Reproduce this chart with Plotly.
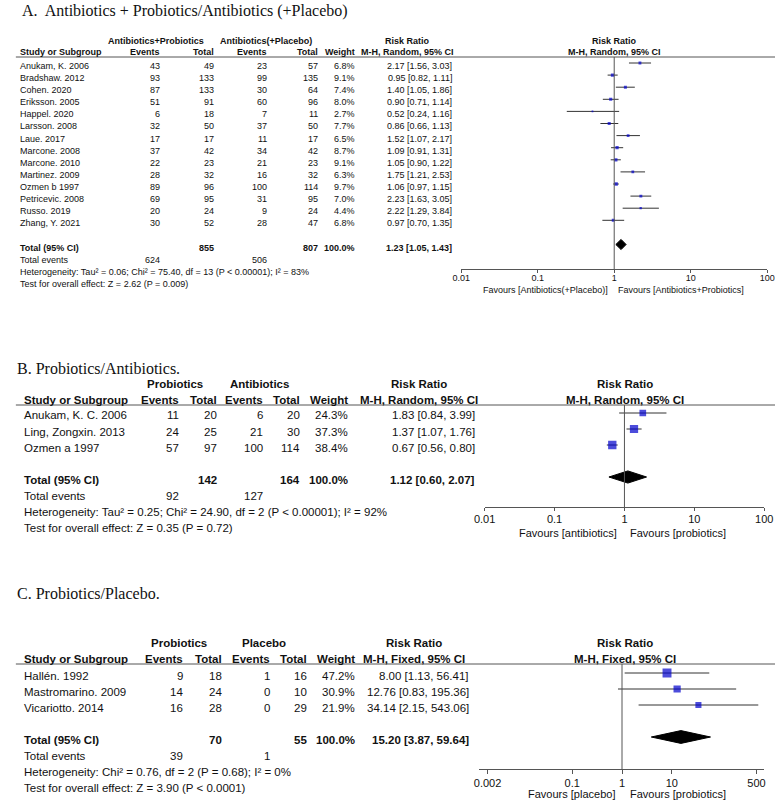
import plotly.graph_objects as go

W, H = 784, 803
SANS = "Liberation Sans, Arial, sans-serif"
SERIF = "Liberation Serif, Times New Roman, serif"
INK = "#111111"
LINE = "#555555"
CI_COL = "#333333"
BOX = "#0000CC"

# ---------------- Panel A data ----------------
studies_a = ["Anukam, K. 2006", "Bradshaw. 2012", "Cohen. 2020", "Eriksson. 2005",
             "Happel. 2020", "Larsson. 2008", "Laue. 2017", "Marcone. 2008",
             "Marcone. 2010", "Martinez. 2009", "Ozmen b 1997", "Petricevic. 2008",
             "Russo. 2019", "Zhang, Y. 2021"]
ev_trt_a = [43, 93, 87, 51, 6, 32, 17, 37, 22, 28, 89, 69, 20, 30]
tot_trt_a = [49, 133, 133, 91, 18, 50, 17, 42, 23, 32, 96, 95, 24, 52]
ev_ctl_a = [23, 99, 30, 60, 7, 37, 11, 34, 21, 16, 100, 31, 9, 28]
tot_ctl_a = [57, 135, 64, 96, 11, 50, 17, 42, 23, 32, 114, 95, 24, 47]
weight_a = [6.8, 9.1, 7.4, 8.0, 2.7, 7.7, 6.5, 8.7, 9.1, 6.3, 9.7, 7.0, 4.4, 6.8]
rr_a = [2.17, 0.95, 1.40, 0.90, 0.52, 0.86, 1.52, 1.09, 1.05, 1.75, 1.06, 2.23, 2.22, 0.97]
lo_a = [1.56, 0.82, 1.05, 0.71, 0.24, 0.66, 1.07, 0.91, 0.90, 1.21, 0.97, 1.63, 1.29, 0.70]
hi_a = [3.03, 1.11, 1.86, 1.14, 1.16, 1.13, 2.17, 1.31, 1.22, 2.53, 1.15, 3.05, 3.84, 1.35]
total_a = {"n_trt": 855, "n_ctl": 807, "ev_trt": 624, "ev_ctl": 506, "weight": 100.0,
           "rr": 1.23, "lo": 1.05, "hi": 1.43}
ticks_a = [0.01, 0.1, 1, 10, 100]
tick_labels_a = ["0.01", "0.1", "1", "10", "100"]

# ---------------- Panel B data ----------------
studies_b = ["Anukam, K. C. 2006", "Ling, Zongxin. 2013", "Ozmen a 1997"]
ev_trt_b = [11, 24, 57]
tot_trt_b = [20, 25, 97]
ev_ctl_b = [6, 21, 100]
tot_ctl_b = [20, 30, 114]
weight_b = [24.3, 37.3, 38.4]
rr_b = [1.83, 1.37, 0.67]
lo_b = [0.84, 1.07, 0.56]
hi_b = [3.99, 1.76, 0.80]
total_b = {"n_trt": 142, "n_ctl": 164, "ev_trt": 92, "ev_ctl": 127, "weight": 100.0,
           "rr": 1.12, "lo": 0.60, "hi": 2.07}
ticks_b = [0.01, 0.1, 1, 10, 100]
tick_labels_b = ["0.01", "0.1", "1", "10", "100"]

# ---------------- Panel C data ----------------
studies_c = ["Hallén. 1992", "Mastromarino. 2009", "Vicariotto. 2014"]
ev_trt_c = [9, 14, 16]
tot_trt_c = [18, 24, 28]
ev_ctl_c = [1, 0, 0]
tot_ctl_c = [16, 10, 29]
weight_c = [47.2, 30.9, 21.9]
rr_c = [8.00, 12.76, 34.14]
lo_c = [1.13, 0.83, 2.15]
hi_c = [56.41, 195.36, 543.06]
total_c = {"n_trt": 70, "n_ctl": 55, "ev_trt": 39, "ev_ctl": 1, "weight": 100.0,
           "rr": 15.20, "lo": 3.87, "hi": 59.64}
ticks_c = [0.002, 0.1, 1, 10, 500]
tick_labels_c = ["0.002", "0.1", "1", "10", "500"]

fig = go.Figure()
annotations = []
shapes = []
layout_axes = {}


def px(x):
    return x / W


def py(y):
    return 1 - y / H


def txt(x, y, s, size, anchor="left", bold=False, family=SANS):
    annotations.append(dict(
        x=px(x), y=py(y), xref="paper", yref="paper",
        text=f"<b>{s}</b>" if bold else s, showarrow=False,
        xanchor=anchor, yanchor="middle", borderpad=0,
        font=dict(size=size, family=family, color=INK)))


def panel(ax, cfg, studies, ev_t, tot_t, ev_c, tot_c, wts, rr, lo, hi, tot,
          tickvals, ticktext):
    fs = cfg["fs"]
    c = cfg["cols"]
    # title
    txt(cfg["title_x"], cfg["title_y"], cfg["title"], 16, family=SERIF)
    # group headers
    txt(c["g1"], cfg["group_y"], cfg["grp1"], fs, "center", True)
    txt(c["g2"], cfg["group_y"], cfg["grp2"], fs, "center", True)
    txt(c["rrh"], cfg["group_y"], "Risk Ratio", fs, "center", True)
    txt(cfg["plot_hdr"], cfg["group_y"], "Risk Ratio", fs, "center", True)
    # column headers
    hy = cfg["head_y"]
    txt(c["study"], hy, "Study or Subgroup", fs, "left", True)
    txt(c["e1"], hy, "Events", fs, "right", True)
    txt(c["t1"], hy, "Total", fs, "right", True)
    txt(c["e2"], hy, "Events", fs, "right", True)
    txt(c["t2"], hy, "Total", fs, "right", True)
    txt(c["w"], hy, "Weight", fs, "right", True)
    txt(c["rrh"], hy, cfg["method"], fs, "center", True)
    txt(cfg["plot_hdr"], hy, cfg["method"], fs, "center", True)
    shapes.append(dict(type="line", xref="paper", yref="paper",
                       x0=px(5), x1=px(784), y0=py(cfg["line_y"]), y1=py(cfg["line_y"]),
                       line=dict(color=LINE, width=1)))

    r0, st, off = cfg["row0"], cfg["step"], cfg["toff"]

    def ry(i):
        return r0 + st * i + off

    n = len(studies)
    for i in range(n):
        y = ry(i)
        txt(c["study"], y, studies[i], fs)
        txt(c["e1"], y, str(ev_t[i]), fs, "right")
        txt(c["t1"], y, str(tot_t[i]), fs, "right")
        txt(c["e2"], y, str(ev_c[i]), fs, "right")
        txt(c["t2"], y, str(tot_c[i]), fs, "right")
        txt(c["w"], y, f"{wts[i]:.1f}%", fs, "right")
        txt(c["rr"], y, f"{rr[i]:.2f} [{lo[i]:.2f}, {hi[i]:.2f}]", fs, "right")
    it = n + 1
    y = ry(it)
    txt(c["study"], y, "Total (95% CI)", fs, "left", True)
    txt(c["t1"], y, str(tot["n_trt"]), fs, "right", True)
    txt(c["t2"], y, str(tot["n_ctl"]), fs, "right", True)
    txt(c["w"], y, f"{tot['weight']:.1f}%", fs, "right", True)
    txt(c["rr"], y, f"{tot['rr']:.2f} [{tot['lo']:.2f}, {tot['hi']:.2f}]", fs, "right", True)
    y = ry(it + 1)
    txt(c["study"], y, "Total events", fs)
    txt(c["e1"], y, str(tot["ev_trt"]), fs, "right")
    txt(c["e2"], y, str(tot["ev_ctl"]), fs, "right")
    txt(c["study"], ry(it + 2), cfg["het"], fs)
    txt(c["study"], ry(it + 3), cfg["test"], fs)

    # favours labels
    txt(cfg["fav_l_x"], cfg["fav_y"], cfg["fav_l"], cfg["tfs"], "right")
    txt(cfg["fav_r_x"], cfg["fav_y"], cfg["fav_r"], cfg["tfs"], "left")

    # axes
    x0, x1 = cfg["px_x"]
    ytop, ybot = cfg["line_y"], cfg["axis_y"]
    xa = "xaxis" + ax
    ya = "yaxis" + ax
    xr = "x" + ax
    yr = "y" + ax
    layout_axes[xa] = dict(
        type="log", domain=[px(x0), px(x1)], range=cfg["xrange"], anchor=yr,
        tickvals=tickvals, ticktext=ticktext, showline=True, linecolor=LINE,
        linewidth=1, ticks="outside", ticklen=cfg["tlen"], tickcolor=LINE, tickwidth=1,
        ticklabelstandoff=cfg["tso"],
        showgrid=False, zeroline=False, ticklabeloverflow="allow",
        tickfont=dict(size=cfg["tfs"], family=SANS, color=INK))
    layout_axes[ya] = dict(
        domain=[py(ybot), py(ytop)], anchor=xr,
        range=[(ybot - r0) / st, (ytop - r0) / st],
        visible=False, showgrid=False, zeroline=False)

    # null line
    shapes.append(dict(type="line", xref=xr, yref=yr + " domain", x0=1, x1=1,
                       y0=0, y1=1, line=dict(color=LINE, width=1)))

    # CI lines
    xs, ys = [], []
    for i in range(n):
        xs += [lo[i], hi[i], None]
        ys += [i, i, None]
    fig.add_trace(go.Scatter(x=xs, y=ys, mode="lines", xaxis=xr, yaxis=yr,
                             line=dict(color=CI_COL, width=1), hoverinfo="skip"))
    # boxes
    fig.add_trace(go.Scatter(
        x=rr, y=list(range(n)), mode="markers", xaxis=xr, yaxis=yr,
        marker=dict(symbol="square", color=BOX,
                    size=[cfg["k"] * w ** 0.5 for w in wts], line=dict(width=0))))
    # diamond
    h = cfg["dh"]
    fig.add_trace(go.Scatter(
        x=[tot["lo"], tot["rr"], tot["hi"], tot["rr"], tot["lo"]],
        y=[it, it - h, it, it + h, it], mode="lines", fill="toself",
        fillcolor="black", line=dict(color="black", width=1),
        xaxis=xr, yaxis=yr, hoverinfo="skip"))


cfg_a = dict(
    title="A.\u00a0 Antibiotics + Probiotics/Antibiotics (+Placebo)", title_x=10, title_y=11,
    grp1="Antibiotics+Probiotics", grp2="Antibiotics(+Placebo)",
    method="M-H, Random, 95% CI", fs=9, tfs=9, tlen=3, tso=-3,
    group_y=41, head_y=52, line_y=57, row0=63, step=12.1, toff=3,
    cols=dict(study=8, e1=154, t1=209, e2=264, t2=316, w=354, rr=454, rrh=407, g1=149, g2=262),
    plot_hdr=619, px_x=(462, 776), axis_y=269, xrange=[-2, 2], k=1.1, dh=0.42,
    fav_l="Favours [Antibiotics(+Placebo)]", fav_r="Favours [Antibiotics+Probiotics]",
    fav_l_x=614, fav_r_x=622, fav_y=290,
    het="Heterogeneity: Tau² = 0.06; Chi² = 75.40, df = 13 (P < 0.00001); I² = 83%",
    test="Test for overall effect: Z = 2.62 (P = 0.009)")

cfg_b = dict(
    title="B. Probiotics/Antibiotics.", title_x=5, title_y=368,
    grp1="Probiotics", grp2="Antibiotics",
    method="M-H, Random, 95% CI", fs=11.5, tfs=11, tlen=3, tso=-1,
    group_y=384, head_y=400, line_y=405, row0=413, step=16, toff=2.5,
    cols=dict(study=12, e1=173, t1=212, e2=260, t2=298, w=347, rr=477, rrh=419, g1=168, g2=255),
    plot_hdr=630, px_x=(486, 773), axis_y=507, xrange=[-2, 2], k=1.35, dh=0.38,
    fav_l="Favours [antibiotics]", fav_r="Favours [probiotics]",
    fav_l_x=623, fav_r_x=634, fav_y=533,
    het="Heterogeneity: Tau² = 0.25; Chi² = 24.90, df = 2 (P < 0.00001); I² = 92%",
    test="Test for overall effect: Z = 0.35 (P = 0.72)")

cfg_c = dict(
    title="C. Probiotics/Placebo.", title_x=5, title_y=593,
    grp1="Probiotics", grp2="Placebo",
    method="M-H, Fixed, 95% CI", fs=11.5, tfs=11, tlen=4, tso=0,
    group_y=643, head_y=659, line_y=664, row0=673, step=16, toff=3,
    cols=dict(study=12, e1=178, t1=218, e2=267, t2=305, w=354, rr=471, rrh=414, g1=172, g2=260),
    plot_hdr=630, px_x=(480, 773), axis_y=769, xrange=[-2.875, 2.855], k=1.3, dh=0.4,
    fav_l="Favours [placebo]", fav_r="Favours [probiotics]",
    fav_l_x=621, fav_r_x=634, fav_y=794,
    het="Heterogeneity: Chi² = 0.76, df = 2 (P = 0.68); I² = 0%",
    test="Test for overall effect: Z = 3.90 (P < 0.0001)")

panel("", cfg_a, studies_a, ev_trt_a, tot_trt_a, ev_ctl_a, tot_ctl_a, weight_a,
      rr_a, lo_a, hi_a, total_a, ticks_a, tick_labels_a)
panel("2", cfg_b, studies_b, ev_trt_b, tot_trt_b, ev_ctl_b, tot_ctl_b, weight_b,
      rr_b, lo_b, hi_b, total_b, ticks_b, tick_labels_b)
panel("3", cfg_c, studies_c, ev_trt_c, tot_trt_c, ev_ctl_c, tot_ctl_c, weight_c,
      rr_c, lo_c, hi_c, total_c, ticks_c, tick_labels_c)

fig.update_layout(
    width=W, height=H, margin=dict(l=0, r=0, t=0, b=0),
    paper_bgcolor="white", plot_bgcolor="rgba(0,0,0,0)",
    showlegend=False, annotations=annotations, shapes=shapes,
    font=dict(family=SANS, color=INK), **layout_axes)

fig.write_html(
    "out.html",
    config={"displayModeBar": False},
    post_script="document.body.style.margin='0';document.body.style.overflow='hidden';")
